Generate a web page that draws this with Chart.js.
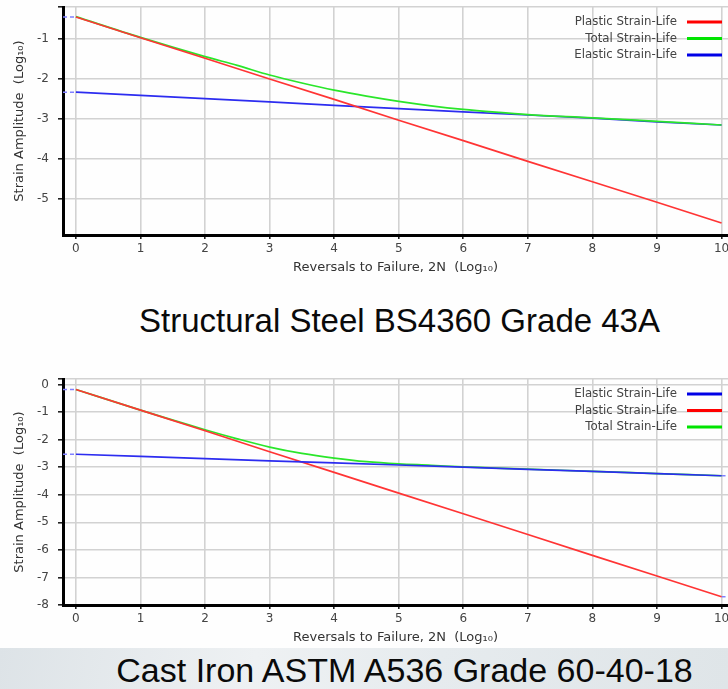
<!DOCTYPE html>
<html>
<head>
<meta charset="utf-8">
<title>Strain-Life curves</title>
<script src="https://cdn.jsdelivr.net/npm/chart.js@4.4.1/dist/chart.umd.min.js"></script>
<style>
  html, body { margin: 0; padding: 0; background: #fefefe; }
  body { width: 728px; height: 689px; position: relative; overflow: hidden; }
  .plot { position: absolute; left: 0; }
  #steel-chart { top: 0; }
  #iron-chart { top: 365px; }
  .band {
    position: absolute; left: 0; top: 648px; width: 728px; height: 41px;
    background: linear-gradient(100deg, #dde3e7 0%, #eef1f3 35%, #e6ebee 60%, #dfe5e8 100%);
  }
  .caption {
    position: absolute; white-space: nowrap; text-align: center;
    font-family: "Liberation Sans", Arial, sans-serif; color: #0a0a0a;
  }
  #steel-caption { left: 0; width: 799px; top: 302px; font-size: 33px; }
  #iron-caption { left: 0; width: 809px; top: 651px; font-size: 34px; }
</style>
</head>
<body>
<div class="band"></div>
<canvas id="steel-chart" class="plot" width="728" height="280"></canvas>
<canvas id="iron-chart" class="plot" width="728" height="285"></canvas>
<div id="steel-caption" class="caption">Structural Steel BS4360 Grade 43A</div>
<div id="iron-caption" class="caption">Cast Iron ASTM A536 Grade 60-40-18</div>

<script>
// ── Data (log10 axes) ──────────────────────────────────────────────────
var xLife       = [0, 1, 2, 3, 4, 5, 6, 7, 8, 9, 10];
var xLifeTotal  = [0, 1, 2, 2.5, 3, 3.5, 4, 4.5, 5, 5.5, 6, 6.5, 7, 8, 9, 10];
var xTicks      = [0, 1, 2, 3, 4, 5, 6, 7, 8, 9, 10];

// Structural Steel BS4360 Grade 43A
var steelPlastic = [-0.45, -0.97, -1.48, -2.00, -2.51, -3.03, -3.54, -4.06, -4.57, -5.08, -5.60];
var steelElastic = [-2.33, -2.41, -2.49, -2.57, -2.66, -2.74, -2.82, -2.90, -2.98, -3.07, -3.15];
var steelTotal   = [-0.44, -0.96, -1.44, -1.66, -1.90, -2.10, -2.28, -2.43, -2.56, -2.67, -2.76, -2.83, -2.89, -2.97, -3.06, -3.15];
var steelTicksY  = [-1, -2, -3, -4, -5];

// Cast Iron ASTM A536 Grade 60-40-18
var ironElastic  = [-2.53, -2.61, -2.69, -2.77, -2.84, -2.92, -3.00, -3.08, -3.15, -3.23, -3.31];
var ironPlastic  = [-0.18, -0.93, -1.68, -2.44, -3.19, -3.94, -4.69, -5.44, -6.20, -6.95, -7.70];
var ironTotal    = [-0.18, -0.93, -1.64, -1.97, -2.27, -2.50, -2.67, -2.80, -2.88, -2.93, -2.99, -3.03, -3.07, -3.15, -3.23, -3.31];
var ironTicksY   = [0, -1, -2, -3, -4, -5, -6, -7, -8];

(function () {
  'use strict';

  Chart.defaults.font.family = '"DejaVu Sans", Verdana, sans-serif';

  var X_MIN = -0.2, X_MAX = 10.1;

  var RED   = { line: '#ff3434', key: '#ff0000' };
  var GREEN = { line: '#2ae62a', key: '#00e400' };
  var BLUE  = { line: '#2c2cf0', key: '#0000e6' };

  function pts(xs, ys) {
    return xs.map(function (x, i) { return { x: x, y: ys[i] }; });
  }

  function series(label, xs, ys, colour, smooth) {
    return {
      label: label,
      data: pts(xs, ys),
      borderColor: colour.line,
      keyColor: colour.key,
      borderWidth: 1.7,
      pointRadius: 0,
      cubicInterpolationMode: smooth ? 'monotone' : 'default',
      fill: false,
    };
  }

  // short dashed cursor marks running from a curve end out to the frame
  function edgeMark(ys, atEnd) {
    var i = atEnd ? ys.length - 1 : 0;
    var xs = atEnd ? [xLife[i], X_MAX] : [X_MIN, xLife[i]];
    return {
      label: '',
      mark: true,
      data: pts(xs, [ys[i], ys[i]]),
      borderColor: '#8080ff',
      borderWidth: 1.5,
      borderDash: [4, 3],
      pointRadius: 0,
    };
  }

  // legend drawn in the top-right corner, text first then the swatch
  var cornerKey = {
    id: 'cornerKey',
    afterDatasetsDraw: function (chart) {
      var ctx = chart.ctx, a = chart.chartArea, row = 0;
      ctx.save();
      ctx.font = '11.8px "DejaVu Sans"';
      ctx.textAlign = 'right';
      ctx.textBaseline = 'middle';
      chart.data.datasets.forEach(function (ds) {
        if (ds.mark) return;
        var y = a.top + 15 + row * 16.5;
        row++;
        ctx.fillStyle = '#444';
        ctx.fillText(ds.label, a.right - 51, y);
        ctx.strokeStyle = ds.keyColor;
        ctx.lineWidth = 3;
        ctx.beginPath();
        ctx.moveTo(a.right - 41, y);
        ctx.lineTo(a.right - 6, y);
        ctx.stroke();
      });
      ctx.restore();
    },
  };

  function makeChart(id, datasets, yMin, yMax, yTicks, padTop) {
    var tickFont = { size: 12 };
    return new Chart(document.getElementById(id), {
      type: 'line',
      data: { datasets: datasets },
      plugins: [cornerKey],
      options: {
        responsive: false,
        animation: false,
        devicePixelRatio: 1,
        layout: { padding: { top: padTop, left: 0, right: 0, bottom: 0 } },
        plugins: { legend: { display: false }, tooltip: { enabled: false } },
        scales: {
          x: {
            type: 'linear',
            min: X_MIN,
            max: X_MAX,
            afterBuildTicks: function (s) {
              s.ticks = xTicks.map(function (v) { return { value: v }; });
            },
            afterFit: function (s) {
              s.height = 45;
              s.paddingLeft = 0;
              s.paddingRight = 0;
            },
            grid: { color: '#d2d2d2', lineWidth: 1.6, tickColor: '#222', tickLength: 4 },
            border: { color: '#000', width: 3 },
            ticks: { color: '#444', font: tickFont, padding: 3, maxRotation: 0, autoSkip: false },
            title: {
              display: true,
              text: 'Reversals to Failure, 2N  (Log\u2081\u2080)',
              color: '#333',
              font: { size: 13 },
              padding: { top: 0, bottom: 5 },
            },
          },
          y: {
            type: 'linear',
            min: yMin,
            max: yMax,
            afterBuildTicks: function (s) {
              s.ticks = [{ value: s.max }].concat(yTicks.map(function (v) { return { value: v }; }));
            },
            afterFit: function (s) {
              s.width = 63;
              s.paddingTop = 0;
              s.paddingBottom = 0;
            },
            grid: { color: '#d2d2d2', lineWidth: 1.6, tickColor: '#222', tickLength: 5 },
            border: { color: '#000', width: 3 },
            ticks: {
              color: '#444',
              font: tickFont,
              padding: 9,
              autoSkip: false,
              callback: function (v) { return yTicks.indexOf(v) >= 0 ? String(v) : ''; },
            },
            title: {
              display: true,
              text: 'Strain Amplitude  (Log\u2081\u2080)',
              color: '#333',
              font: { size: 13 },
              padding: { top: 12, bottom: 0 },
            },
          },
        },
      },
    });
  }

  // ── Structural steel ────────────────────────────────────────────────
  makeChart('steel-chart', [
    series('Plastic Strain-Life', xLife, steelPlastic, RED, false),
    series('Total Strain-Life', xLifeTotal, steelTotal, GREEN, true),
    series('Elastic Strain-Life', xLife, steelElastic, BLUE, false),
    edgeMark(steelPlastic, false),
    edgeMark(steelElastic, false),
  ], -5.9, -0.2, steelTicksY, 7);

  // ── Cast iron ───────────────────────────────────────────────────────
  makeChart('iron-chart', [
    series('Elastic Strain-Life', xLife, ironElastic, BLUE, false),
    series('Plastic Strain-Life', xLife, ironPlastic, RED, false),
    series('Total Strain-Life', xLifeTotal, ironTotal, GREEN, true),
    edgeMark(ironPlastic, false),
    edgeMark(ironElastic, false),
    edgeMark(ironPlastic, true),
    edgeMark(ironElastic, true),
  ], -8, 0.2, ironTicksY, 14);
})();
</script>
</body>
</html>
